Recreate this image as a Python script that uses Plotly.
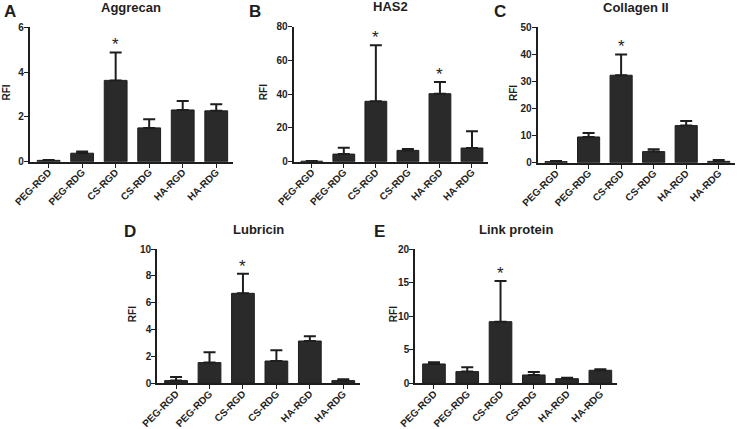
import plotly.graph_objects as go

categories = ["PEG-RGD", "PEG-RDG", "CS-RGD", "CS-RDG", "HA-RGD", "HA-RDG"]

panel_letters = ["A", "B", "C", "D", "E"]
panel_titles = ["Aggrecan", "HAS2", "Collagen II", "Lubricin", "Link protein"]

aggrecan_mean = [0.06, 0.38, 3.63, 1.51, 2.31, 2.27]
aggrecan_err = [0.02, 0.07, 1.25, 0.38, 0.40, 0.30]
aggrecan_star = [False, False, True, False, False, False]

has2_mean = [0.3, 4.5, 35.8, 6.7, 40.3, 8.1]
has2_err = [0.1, 3.8, 33.2, 0.8, 6.9, 9.9]
has2_star = [False, False, True, False, True, False]

collagen_mean = [0.4, 9.5, 32.3, 4.1, 13.7, 0.5]
collagen_err = [0.2, 1.5, 7.7, 0.9, 1.7, 0.5]
collagen_star = [False, False, True, False, False, False]

lubricin_mean = [0.2, 1.54, 6.7, 1.66, 3.15, 0.2]
lubricin_err = [0.27, 0.77, 1.46, 0.80, 0.35, 0.10]
lubricin_star = [False, False, True, False, False, False]

link_mean = [2.88, 1.74, 9.18, 1.24, 0.69, 1.94]
link_err = [0.25, 0.64, 6.06, 0.45, 0.15, 0.14]
link_star = [False, False, True, False, False, False]

y_max = [6, 80, 50, 10, 20]
y_dtick = [2, 20, 10, 2, 5]

means = [aggrecan_mean, has2_mean, collagen_mean, lubricin_mean, link_mean]
errs = [aggrecan_err, has2_err, collagen_err, lubricin_err, link_err]
stars = [aggrecan_star, has2_star, collagen_star, lubricin_star, link_star]

# layout geometry in pixels: (x_left, x_right, y_top, y_bottom)
W, H = 741, 429
boxes = [
    (29.5, 233, 27.3, 161.7),
    (293.5, 488, 26.7, 161.7),
    (537.5, 735, 27.3, 162.7),
    (157, 360, 249, 383.3),
    (415, 617, 249, 383.3),
]
letter_x = [2, 247, 492, 122, 372]
letter_top = [0, 0, 0, 220, 220]
rfi_x = [6, 263, 513, 132, 393]

FONT = "Liberation Sans, Arial, sans-serif"
INK = "#1e1e1e"
BAR = "#2a2a2a"

fig = go.Figure()
annotations = []
for i in range(5):
    xl, xr, yt, yb = boxes[i]
    n = "" if i == 0 else str(i + 1)
    xa, ya = "x" + n, "y" + n
    fig.add_trace(go.Bar(
        x=categories, y=means[i],
        xaxis=xa, yaxis=ya,
        marker=dict(color=BAR, line=dict(color=INK, width=1)),
        width=0.68,
        error_y=dict(type="data", symmetric=False, array=errs[i],
                     arrayminus=[0] * len(errs[i]),
                     color=INK, thickness=2, width=6),
        showlegend=False,
    ))
    dom_x = [xl / W, xr / W]
    dom_y = [(H - yb) / H, (H - yt) / H]
    fig.layout["xaxis" + n] = dict(
        domain=dom_x, anchor=ya, type="category", range=[-0.57, 5.5],
        automargin=False,
        showline=True, linecolor=INK, linewidth=1.6,
        ticks="outside", ticklen=4, tickwidth=1.4, tickcolor=INK,
        tickangle=-45, showgrid=False, zeroline=False,
        ticklabelstandoff=-5,
        tickfont=dict(family=FONT, size=10, color=INK, weight="bold"),
    )
    fig.layout["yaxis" + n] = dict(
        domain=dom_y, anchor=xa, range=[0, y_max[i]], dtick=y_dtick[i],
        automargin=False,
        showline=True, linecolor=INK, linewidth=1.6,
        ticks="outside", ticklen=4, tickwidth=1.4, tickcolor=INK,
        showgrid=False, zeroline=False, ticklabelstandoff=-2,
        tickfont=dict(family=FONT, size=10, color=INK, weight="bold"),
    )
    # title
    annotations.append(dict(
        text="<b>%s</b>" % panel_titles[i], xref="paper", yref="paper",
        x=(xl + xr) / 2 / W, y=(H - (yt - 20)) / H, xanchor="center", yanchor="middle",
        showarrow=False, font=dict(family=FONT, size=13, color=INK),
    ))
    # panel letter
    annotations.append(dict(
        text="<b>%s</b>" % panel_letters[i], xref="paper", yref="paper",
        x=letter_x[i] / W, y=(H - letter_top[i]) / H, xanchor="left", yanchor="top",
        showarrow=False, font=dict(family=FONT, size=17, color=INK),
    ))
    # y label
    annotations.append(dict(
        text="<b>RFI</b>", xref="paper", yref="paper", textangle=-90,
        x=rfi_x[i] / W, y=(H - (yt + yb) / 2 + 2) / H, xanchor="center", yanchor="middle",
        showarrow=False, font=dict(family=FONT, size=10, color=INK),
    ))
    # significance stars
    for c, m, e, s in zip(categories, means[i], errs[i], stars[i]):
        if s:
            annotations.append(dict(
                text="*", xref=xa, yref=ya, x=c, y=m + e,
                xanchor="center", yanchor="bottom", yshift=-4,
                showarrow=False, font=dict(family=FONT, size=17, color=INK),
            ))

fig.update_layout(
    width=W, height=H, margin=dict(l=0, r=0, t=0, b=0),
    paper_bgcolor="white", plot_bgcolor="white",
    annotations=annotations, bargap=0.32,
)
fig.write_html(
    "out.html",
    config={"displayModeBar": False},
    post_script="document.body.style.margin='0';document.body.style.overflow='hidden';",
)
